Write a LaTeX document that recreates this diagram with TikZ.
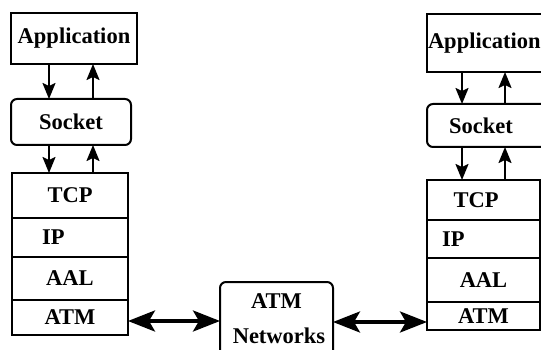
\documentclass[tikz,border=0pt]{standalone}
\usepackage{fontspec}
\setmainfont{Liberation Serif}
\usetikzlibrary{arrows.meta,positioning}
\begin{document}
\begin{tikzpicture}[
	                  x = 1pt,
	                  y = -1pt,
	      every node/.style = {font=\bfseries\fontsize{22.5}{24}\selectfont, inner sep=0pt, outer sep=0pt},
	        layerbox/.style = {draw, line width=2pt, rectangle},
	       sockbox/.style = {draw, line width=2pt, rounded corners=6pt},
	          vlink/.style = {line width=2pt, -{Stealth[length=16pt,width=13pt,inset=3pt]}},
	          hlink/.style = {line width=3.5pt, {Stealth[length=27pt,width=21pt,inset=6pt]}-{Stealth[length=27pt,width=21pt,inset=6pt]}}
	                     ]
	\useasboundingbox (0,0) rectangle (541,350);
	\clip (0,0) rectangle (541,350);
	% left host
	\node[layerbox, minimum width=126pt, minimum height=51pt] (app1) at (74,38.5) {Application};
	\node[sockbox, minimum width=120pt, minimum height=46pt] (sock1) at (71,122) {Socket};
	\node[layerbox, minimum width=116pt, minimum height=45pt] (tcp1) at (70,195.5) {TCP};
	\node[layerbox, minimum width=116pt, minimum height=39pt, below=0pt of tcp1] (ip1) {};
	\node[layerbox, minimum width=116pt, minimum height=43pt, below=0pt of ip1] (aal1) {AAL};
	\node[layerbox, minimum width=116pt, minimum height=35pt, below=0pt of aal1] (atm1) {ATM};
	\node[anchor=west] at (42,237.5) {IP};
	\coordinate (dn1) at (49,0);
	\coordinate (up1) at (93,0);
	\draw[vlink] (app1.south -| dn1) -- (sock1.north -| dn1);
	\draw[vlink] (sock1.north -| up1) -- (app1.south -| up1);
	\draw[vlink] (sock1.south -| dn1) -- (tcp1.north -| dn1);
	\draw[vlink] (tcp1.north -| up1) -- (sock1.south -| up1);
	% network
	\node[sockbox, minimum width=113pt, minimum height=80pt] (net) at (276.5,322) {};
	\node (netA) at (276.5,301) {ATM};
	\node (netB) at (279,336) {Networks};
	% right host
	\node[layerbox, minimum width=133pt, minimum height=58pt] (app2) at (493.5,43) {};
	\node[anchor=west] at (428,43) {Application};
	\node[sockbox, minimum width=133pt, minimum height=43pt] (sock2) at (493.5,125.5) {};
	\node at (481,125.5) {Socket};
	\node[layerbox, minimum width=113pt, minimum height=40pt] (tcp2) at (483.5,200) {};
	\node[layerbox, minimum width=113pt, minimum height=38pt, below=0pt of tcp2] (ip2) {};
	\node[layerbox, minimum width=113pt, minimum height=44pt, below=0pt of ip2] (aal2) {AAL};
	\node[layerbox, minimum width=113pt, minimum height=28pt, below=0pt of aal2] (atm2) {ATM};
	\node at (476,200) {TCP};
	\node[anchor=west] at (442,239) {IP};
	\coordinate (dn2) at (462,0);
	\coordinate (up2) at (505,0);
	\draw[vlink] (app2.south -| dn2) -- (sock2.north -| dn2);
	\draw[vlink] (sock2.north -| up2) -- (app2.south -| up2);
	\draw[vlink] (sock2.south -| dn2) -- (tcp2.north -| dn2);
	\draw[vlink] (tcp2.north -| up2) -- (sock2.south -| up2);
	% links
	\draw[hlink] (atm1.east |- 0,321) -- (net.west |- 0,321);
	\draw[hlink] (net.east |- 0,322) -- (atm2.west |- 0,322);
\end{tikzpicture}
\end{document}
